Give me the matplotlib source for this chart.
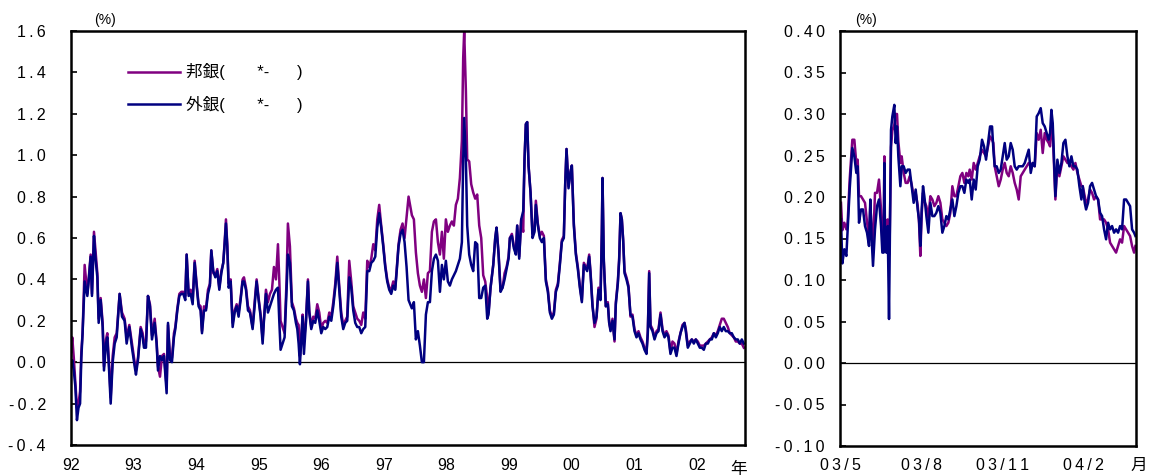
import matplotlib
matplotlib.use("Agg")
import matplotlib.pyplot as plt
import numpy as np

plt.rcParams["font.family"] = ["Liberation Sans", "Noto Sans CJK JP", "DejaVu Sans"]

# 1992-2002: decimal year, 外銀 (foreign banks), 邦銀 (domestic banks), %
long_rows = [
    # 1992
    (1992.000, -0.02, 0.05), (1992.020, 0.01, 0.12), (1992.045, -0.04, 0.02),
    (1992.070, -0.12, -0.10), (1992.095, -0.28, -0.22), (1992.120, -0.22, -0.20),
    (1992.145, -0.20, -0.14), (1992.165, 0.02, 0.05), (1992.185, 0.14, 0.14),
    (1992.218, 0.39, 0.47), (1992.261, 0.32, 0.33), (1992.282, 0.39, 0.40),
    (1992.314, 0.51, 0.52), (1992.335, 0.32, 0.33), (1992.367, 0.61, 0.63),
    (1992.389, 0.51, 0.55), (1992.421, 0.41, 0.43), (1992.442, 0.19, 0.21),
    (1992.474, 0.30, 0.31), (1992.506, 0.17, 0.19), (1992.527, -0.04, -0.02),
    (1992.559, 0.09, 0.11), (1992.580, 0.12, 0.14), (1992.612, -0.06, -0.03),
    (1992.634, -0.20, -0.17), (1992.666, 0.00, 0.03), (1992.698, 0.09, 0.12),
    (1992.730, 0.12, 0.14), (1992.777, 0.33, 0.33), (1992.815, 0.22, 0.24),
    (1992.857, 0.20, 0.21), (1992.889, 0.09, 0.12), (1992.932, 0.17, 0.18),
    (1992.974, 0.07, 0.09),
    # 1993
    (1993.017, -0.02, 0.00), (1993.038, -0.06, -0.04), (1993.070, 0.01, 0.02),
    (1993.113, 0.16, 0.17), (1993.145, 0.12, 0.14), (1993.166, 0.07, 0.09),
    (1993.198, 0.07, 0.10), (1993.230, 0.32, 0.32), (1993.262, 0.27, 0.28),
    (1993.294, 0.11, 0.13), (1993.337, 0.19, 0.21), (1993.368, 0.09, 0.10),
    (1993.390, -0.04, -0.02), (1993.422, 0.03, -0.07), (1993.454, 0.01, 0.03),
    (1993.486, 0.03, 0.04), (1993.507, -0.06, -0.04), (1993.528, -0.15, -0.12),
    (1993.550, 0.19, 0.18), (1993.581, 0.01, 0.03), (1993.613, 0.00, 0.02),
    (1993.645, 0.12, 0.14), (1993.667, 0.16, 0.17), (1993.699, 0.25, 0.26),
    (1993.731, 0.32, 0.33), (1993.763, 0.33, 0.34), (1993.794, 0.33, 0.34),
    (1993.826, 0.30, 0.32), (1993.848, 0.52, 0.52), (1993.880, 0.32, 0.33),
    (1993.912, 0.33, 0.35), (1993.944, 0.28, 0.30), (1993.976, 0.48, 0.49),
    # 1994
    (1994.007, 0.37, 0.38), (1994.039, 0.27, 0.28), (1994.071, 0.25, 0.27),
    (1994.093, 0.14, 0.15), (1994.125, 0.25, 0.27), (1994.157, 0.25, 0.26),
    (1994.189, 0.33, 0.35), (1994.220, 0.37, 0.38), (1994.242, 0.54, 0.54),
    (1994.274, 0.44, 0.43), (1994.306, 0.41, 0.42), (1994.338, 0.44, 0.45),
    (1994.370, 0.35, 0.36), (1994.402, 0.43, 0.44), (1994.433, 0.48, 0.48),
    (1994.455, 0.57, 0.58), (1994.476, 0.67, 0.69), (1994.497, 0.56, 0.57),
    (1994.519, 0.36, 0.38), (1994.551, 0.39, 0.40), (1994.583, 0.17, 0.19),
    (1994.615, 0.24, 0.25), (1994.647, 0.27, 0.28), (1994.678, 0.22, 0.24),
    (1994.710, 0.30, 0.31), (1994.742, 0.39, 0.40), (1994.764, 0.39, 0.41),
    (1994.796, 0.35, 0.36), (1994.828, 0.25, 0.27), (1994.860, 0.24, 0.25),
    (1994.902, 0.16, 0.17), (1994.934, 0.27, 0.29), (1994.966, 0.39, 0.40),
    (1994.998, 0.30, 0.31),
    # 1995
    (1995.030, 0.22, 0.23), (1995.062, 0.09, 0.11), (1995.083, 0.20, 0.21),
    (1995.115, 0.33, 0.35), (1995.147, 0.24, 0.29), (1995.179, 0.27, 0.33),
    (1995.211, 0.30, 0.35), (1995.243, 0.33, 0.46), (1995.275, 0.35, 0.40),
    (1995.307, 0.36, 0.57), (1995.328, 0.20, 0.40), (1995.349, 0.06, 0.20),
    (1995.381, 0.09, 0.17), (1995.413, 0.12, 0.14), (1995.445, 0.35, 0.40),
    (1995.466, 0.52, 0.67), (1995.498, 0.48, 0.56), (1995.530, 0.27, 0.29),
    (1995.562, 0.25, 0.26), (1995.594, 0.19, 0.21), (1995.616, 0.16, 0.19),
    (1995.637, 0.09, 0.18), (1995.658, -0.01, 0.03), (1995.680, 0.11, 0.12),
    (1995.701, 0.22, 0.23), (1995.722, 0.04, 0.10), (1995.754, 0.19, 0.20),
    (1995.786, 0.39, 0.40), (1995.807, 0.24, 0.25), (1995.839, 0.16, 0.17),
    (1995.871, 0.20, 0.22), (1995.903, 0.19, 0.21), (1995.935, 0.25, 0.28),
    (1995.967, 0.20, 0.24), (1995.999, 0.14, 0.16),
    # 1996
    (1996.031, 0.17, 0.19), (1996.063, 0.16, 0.20), (1996.095, 0.17, 0.19),
    (1996.127, 0.22, 0.24), (1996.159, 0.20, 0.22), (1996.191, 0.27, 0.29),
    (1996.223, 0.36, 0.38), (1996.255, 0.48, 0.51), (1996.286, 0.35, 0.37),
    (1996.318, 0.22, 0.24), (1996.350, 0.16, 0.18), (1996.382, 0.19, 0.20),
    (1996.414, 0.20, 0.22), (1996.446, 0.41, 0.49), (1996.478, 0.36, 0.39),
    (1996.510, 0.25, 0.27), (1996.542, 0.19, 0.24), (1996.574, 0.17, 0.21),
    (1996.606, 0.17, 0.20), (1996.638, 0.14, 0.18), (1996.670, 0.16, 0.24),
    (1996.702, 0.17, 0.21), (1996.734, 0.44, 0.49), (1996.766, 0.44, 0.46),
    (1996.798, 0.48, 0.50), (1996.830, 0.49, 0.57), (1996.862, 0.51, 0.54),
    (1996.894, 0.65, 0.69), (1996.925, 0.72, 0.76), (1996.957, 0.65, 0.66),
    (1996.989, 0.56, 0.57),
    # 1997
    (1997.021, 0.46, 0.47), (1997.053, 0.39, 0.40), (1997.085, 0.35, 0.36),
    (1997.117, 0.33, 0.35), (1997.149, 0.37, 0.39), (1997.181, 0.35, 0.36),
    (1997.202, 0.43, 0.44), (1997.234, 0.56, 0.57), (1997.266, 0.62, 0.64),
    (1997.298, 0.64, 0.67), (1997.330, 0.58, 0.60), (1997.362, 0.46, 0.70),
    (1997.394, 0.30, 0.80), (1997.447, 0.26, 0.71), (1997.479, 0.29, 0.69),
    (1997.511, 0.11, 0.53), (1997.543, 0.15, 0.43), (1997.575, 0.08, 0.37),
    (1997.607, 0.00, 0.34), (1997.639, 0.00, 0.40), (1997.671, 0.23, 0.31),
    (1997.703, 0.29, 0.43), (1997.735, 0.29, 0.44), (1997.767, 0.44, 0.63),
    (1997.799, 0.50, 0.68), (1997.831, 0.52, 0.69), (1997.863, 0.49, 0.58),
    (1997.895, 0.34, 0.52), (1997.927, 0.47, 0.63), (1997.958, 0.40, 0.50),
    (1997.990, 0.49, 0.69),
    # 1998
    (1998.022, 0.39, 0.63), (1998.054, 0.37, 0.66), (1998.086, 0.40, 0.68),
    (1998.118, 0.42, 0.66), (1998.150, 0.44, 0.76), (1998.182, 0.47, 0.79),
    (1998.214, 0.50, 0.89), (1998.246, 0.58, 1.07), (1998.267, 0.98, 1.47),
    (1998.283, 1.18, 1.60), (1998.310, 0.98, 1.31), (1998.331, 0.66, 0.98),
    (1998.363, 0.52, 0.97), (1998.395, 0.47, 0.86), (1998.427, 0.44, 0.82),
    (1998.459, 0.58, 0.79), (1998.491, 0.57, 0.81), (1998.523, 0.31, 0.66),
    (1998.555, 0.31, 0.60), (1998.587, 0.36, 0.42), (1998.619, 0.37, 0.39),
    (1998.651, 0.21, 0.31), (1998.672, 0.23, 0.24), (1998.704, 0.36, 0.36),
    (1998.747, 0.47, 0.47), (1998.779, 0.60, 0.60), (1998.800, 0.65, 0.65),
    (1998.832, 0.52, 0.53), (1998.864, 0.34, 0.35), (1998.896, 0.36, 0.36),
    (1998.928, 0.40, 0.43), (1998.960, 0.45, 0.46), (1998.992, 0.50, 0.51),
    # 1999
    (1999.013, 0.60, 0.60), (1999.045, 0.61, 0.62), (1999.077, 0.55, 0.56),
    (1999.109, 0.52, 0.53), (1999.130, 0.66, 0.66), (1999.162, 0.50, 0.51),
    (1999.194, 0.69, 0.69), (1999.226, 0.73, 0.63), (1999.247, 0.98, 0.98),
    (1999.268, 1.15, 1.15), (1999.290, 1.16, 1.16), (1999.311, 0.95, 0.95),
    (1999.343, 0.82, 0.82), (1999.375, 0.60, 0.62), (1999.407, 0.63, 0.64),
    (1999.428, 0.76, 0.78), (1999.460, 0.66, 0.67), (1999.492, 0.60, 0.61),
    (1999.524, 0.58, 0.63), (1999.556, 0.60, 0.61), (1999.588, 0.39, 0.40),
    (1999.620, 0.34, 0.35), (1999.652, 0.24, 0.25), (1999.684, 0.21, 0.22),
    (1999.716, 0.23, 0.24), (1999.748, 0.34, 0.35), (1999.780, 0.37, 0.38),
    (1999.812, 0.47, 0.48), (1999.843, 0.58, 0.59), (1999.875, 0.60, 0.61),
    (1999.897, 0.86, 0.86), (1999.918, 1.03, 1.03), (1999.950, 0.84, 0.85),
    (1999.982, 0.92, 0.92),
    # 2000
    (2000.003, 0.95, 0.95), (2000.035, 0.66, 0.67), (2000.067, 0.52, 0.53),
    (2000.099, 0.45, 0.46), (2000.131, 0.36, 0.37), (2000.163, 0.29, 0.30),
    (2000.195, 0.47, 0.48), (2000.248, 0.44, 0.45), (2000.280, 0.51, 0.52),
    (2000.301, 0.43, 0.44), (2000.333, 0.27, 0.28), (2000.365, 0.19, 0.17),
    (2000.397, 0.22, 0.21), (2000.429, 0.35, 0.36), (2000.461, 0.30, 0.31),
    (2000.482, 0.62, 0.62), (2000.493, 0.89, 0.89), (2000.514, 0.49, 0.49),
    (2000.546, 0.27, 0.27), (2000.578, 0.28, 0.29), (2000.600, 0.19, 0.19),
    (2000.621, 0.15, 0.16), (2000.653, 0.20, 0.21), (2000.685, 0.11, 0.10),
    (2000.706, 0.28, 0.29), (2000.738, 0.38, 0.39), (2000.759, 0.49, 0.50),
    (2000.781, 0.72, 0.72), (2000.802, 0.69, 0.69), (2000.823, 0.59, 0.59),
    (2000.845, 0.43, 0.44), (2000.876, 0.40, 0.41), (2000.908, 0.36, 0.37),
    (2000.940, 0.23, 0.22), (2000.972, 0.22, 0.23),
    # 2001
    (2001.004, 0.15, 0.16), (2001.036, 0.12, 0.13), (2001.068, 0.14, 0.15),
    (2001.100, 0.11, 0.12), (2001.132, 0.09, 0.10), (2001.164, 0.06, 0.07),
    (2001.196, 0.04, 0.05), (2001.217, 0.14, 0.15), (2001.239, 0.43, 0.44),
    (2001.260, 0.17, 0.18), (2001.292, 0.15, 0.16), (2001.324, 0.11, 0.12),
    (2001.356, 0.14, 0.15), (2001.388, 0.15, 0.16), (2001.420, 0.23, 0.24),
    (2001.452, 0.15, 0.16), (2001.484, 0.12, 0.13), (2001.515, 0.14, 0.15),
    (2001.547, 0.12, 0.13), (2001.579, 0.04, 0.05), (2001.611, 0.07, 0.10),
    (2001.643, 0.07, 0.09), (2001.675, 0.03, 0.04), (2001.707, 0.09, 0.10),
    (2001.739, 0.14, 0.14), (2001.771, 0.17, 0.18), (2001.803, 0.19, 0.19),
    (2001.824, 0.15, 0.16), (2001.856, 0.07, 0.08), (2001.888, 0.09, 0.10),
    (2001.920, 0.11, 0.11), (2001.952, 0.09, 0.10), (2001.984, 0.11, 0.11),
    # 2002
    (2002.016, 0.09, 0.10), (2002.048, 0.07, 0.08), (2002.080, 0.07, 0.08),
    (2002.112, 0.06, 0.08), (2002.144, 0.09, 0.09), (2002.176, 0.09, 0.10),
    (2002.208, 0.11, 0.11), (2002.240, 0.11, 0.12), (2002.272, 0.14, 0.14),
    (2002.304, 0.12, 0.13), (2002.335, 0.14, 0.15), (2002.367, 0.17, 0.18),
    (2002.399, 0.15, 0.21), (2002.431, 0.17, 0.21), (2002.463, 0.15, 0.19),
    (2002.495, 0.15, 0.17), (2002.527, 0.14, 0.14), (2002.559, 0.14, 0.13),
    (2002.591, 0.12, 0.12), (2002.623, 0.11, 0.10), (2002.655, 0.11, 0.10),
    (2002.687, 0.09, 0.09), (2002.719, 0.11, 0.09), (2002.751, 0.09, 0.07),
]
long_t = np.array([r[0] for r in long_rows])
long_foreign = np.array([r[1] for r in long_rows])
long_domestic = np.array([r[2] for r in long_rows])

# May 2003 - Mar 2004: months since 2003/5, 外銀, 邦銀, %
recent_rows = [
    (0.037, 0.173, 0.193), (0.086, 0.120, 0.160), (0.160, 0.137, 0.169),
    (0.235, 0.129, 0.161), (0.284, 0.161, 0.170), (0.358, 0.209, 0.221),
    (0.457, 0.259, 0.269), (0.531, 0.249, 0.269), (0.605, 0.229, 0.240),
    (0.654, 0.237, 0.245), (0.704, 0.169, 0.201), (0.778, 0.185, 0.201),
    (0.852, 0.185, 0.197), (0.926, 0.165, 0.193), (1.000, 0.157, 0.170),
    (1.074, 0.141, 0.150), (1.123, 0.197, 0.190), (1.173, 0.149, 0.160),
    (1.222, 0.117, 0.140), (1.296, 0.161, 0.205), (1.370, 0.189, 0.205),
    (1.444, 0.197, 0.221), (1.519, 0.165, 0.185), (1.568, 0.133, 0.150),
    (1.617, 0.133, 0.140), (1.642, 0.241, 0.249), (1.667, 0.137, 0.150),
    (1.716, 0.133, 0.161), (1.765, 0.165, 0.173), (1.815, 0.053, 0.130),
    (1.840, 0.133, 0.150), (1.889, 0.281, 0.260), (1.938, 0.297, 0.280),
    (2.012, 0.311, 0.287), (2.062, 0.265, 0.300), (2.111, 0.285, 0.300),
    (2.160, 0.249, 0.267), (2.235, 0.213, 0.241), (2.284, 0.237, 0.249),
    (2.358, 0.237, 0.229), (2.432, 0.229, 0.217), (2.506, 0.233, 0.217),
    (2.580, 0.233, 0.225), (2.654, 0.213, 0.215), (2.728, 0.193, 0.201),
    (2.802, 0.209, 0.205), (2.877, 0.185, 0.190), (2.926, 0.173, 0.169),
    (2.975, 0.141, 0.129), (3.025, 0.185, 0.180), (3.074, 0.213, 0.205),
    (3.123, 0.201, 0.195), (3.198, 0.177, 0.189), (3.272, 0.157, 0.175),
    (3.346, 0.193, 0.201), (3.420, 0.177, 0.197), (3.494, 0.177, 0.189),
    (3.568, 0.181, 0.193), (3.642, 0.189, 0.201), (3.716, 0.181, 0.193),
    (3.790, 0.157, 0.173), (3.864, 0.165, 0.169), (3.938, 0.177, 0.165),
    (4.012, 0.173, 0.169), (4.086, 0.185, 0.181), (4.160, 0.197, 0.213),
    (4.235, 0.177, 0.201), (4.309, 0.189, 0.201), (4.383, 0.205, 0.213),
    (4.457, 0.213, 0.225), (4.531, 0.213, 0.229), (4.605, 0.205, 0.217),
    (4.679, 0.221, 0.229), (4.753, 0.217, 0.225), (4.802, 0.221, 0.233),
    (4.877, 0.197, 0.221), (4.951, 0.221, 0.241), (5.025, 0.209, 0.233),
    (5.099, 0.237, 0.241), (5.173, 0.245, 0.249), (5.259, 0.269, 0.257),
    (5.333, 0.261, 0.253), (5.407, 0.245, 0.249), (5.481, 0.265, 0.261),
    (5.556, 0.285, 0.273), (5.630, 0.285, 0.269), (5.679, 0.257, 0.265),
    (5.728, 0.237, 0.237), (5.802, 0.237, 0.225), (5.877, 0.229, 0.213),
    (5.951, 0.233, 0.221), (6.025, 0.249, 0.233), (6.099, 0.265, 0.241),
    (6.173, 0.245, 0.229), (6.247, 0.249, 0.225), (6.321, 0.265, 0.237),
    (6.395, 0.257, 0.229), (6.469, 0.237, 0.217), (6.543, 0.233, 0.209),
    (6.617, 0.237, 0.197), (6.691, 0.237, 0.225), (6.765, 0.237, 0.229),
    (6.840, 0.241, 0.233), (6.914, 0.249, 0.237), (6.988, 0.257, 0.241),
    (7.062, 0.229, 0.237), (7.136, 0.241, 0.241), (7.210, 0.237, 0.237),
    (7.284, 0.297, 0.277), (7.358, 0.301, 0.269), (7.432, 0.307, 0.281),
    (7.506, 0.289, 0.253), (7.580, 0.285, 0.277), (7.654, 0.277, 0.269),
    (7.728, 0.269, 0.265), (7.778, 0.277, 0.261), (7.827, 0.305, 0.289),
    (7.877, 0.289, 0.277), (7.926, 0.245, 0.237), (7.975, 0.201, 0.197),
    (8.049, 0.245, 0.241), (8.123, 0.229, 0.225), (8.198, 0.241, 0.237),
    (8.272, 0.265, 0.249), (8.346, 0.269, 0.245), (8.420, 0.249, 0.241),
    (8.494, 0.237, 0.241), (8.568, 0.249, 0.237), (8.642, 0.237, 0.233),
    (8.716, 0.237, 0.241), (8.790, 0.233, 0.229), (8.864, 0.213, 0.221),
    (8.938, 0.197, 0.213), (8.988, 0.213, 0.213), (9.062, 0.193, 0.201),
    (9.111, 0.185, 0.193), (9.185, 0.193, 0.197), (9.259, 0.213, 0.209),
    (9.333, 0.217, 0.205), (9.407, 0.209, 0.197), (9.481, 0.201, 0.201),
    (9.556, 0.197, 0.197), (9.630, 0.181, 0.173), (9.704, 0.177, 0.173),
    (9.778, 0.161, 0.173), (9.852, 0.149, 0.169), (9.926, 0.169, 0.161),
    (10.000, 0.161, 0.145), (10.074, 0.165, 0.141), (10.148, 0.157, 0.137),
    (10.222, 0.161, 0.133), (10.296, 0.157, 0.141), (10.370, 0.165, 0.149),
    (10.444, 0.161, 0.145), (10.519, 0.197, 0.165), (10.593, 0.197, 0.161),
    (10.667, 0.193, 0.157), (10.741, 0.189, 0.153), (10.815, 0.161, 0.141),
    (10.889, 0.157, 0.133), (10.938, 0.153, 0.141),
]
recent_m = np.array([r[0] for r in recent_rows])
recent_foreign = np.array([r[1] for r in recent_rows])
recent_domestic = np.array([r[2] for r in recent_rows])

year_ticks = list(range(1992, 2003))
year_labels = ["92", "93", "94", "95", "96", "97", "98", "99", "00", "01", "02"]
long_yticks = [-0.4, -0.2, 0.0, 0.2, 0.4, 0.6, 0.8, 1.0, 1.2, 1.4, 1.6]

month_ticks = [0, 3, 6, 9]
month_labels = ["03/5", "03/8", "03/11", "04/2"]
recent_yticks = [-0.10, -0.05, 0.00, 0.05, 0.10, 0.15, 0.20, 0.25, 0.30, 0.35, 0.40]

DOM = "#800080"
FOR = "#000080"
W, H = 1149, 475


def spaced(s):
    # wide letter spacing for the numeric labels
    return "\u2009".join(s)


fig = plt.figure(figsize=(W / 100, H / 100), dpi=100)
ax1 = fig.add_axes([71 / W, 30 / H, 674 / W, 414 / H])
ax2 = fig.add_axes([840 / W, 29 / H, 296 / W, 415 / H])


def style(ax, ypad, xpad):
    for s in ax.spines.values():
        s.set_linewidth(1.8)
        s.set_color("black")
    ax.axhline(0, color="black", lw=0.9, zorder=1)
    ax.tick_params(axis="y", direction="in", length=4, width=1.2,
                   pad=ypad, labelsize=11.5)
    ax.tick_params(axis="x", length=0, pad=xpad, labelsize=11.5)


ax1.plot(long_t, long_domestic, color=DOM, lw=1.8, label="邦銀(       *-      )")
ax1.plot(long_t, long_foreign, color=FOR, lw=1.8, label="外銀(       *-      )")
ax1.set_xlim(1992.0, 2002.77)
ax1.set_ylim(-0.4, 1.6)
ax1.set_xticks(year_ticks)
ax1.set_xticklabels(year_labels)
ax1.set_yticks(long_yticks)
ax1.set_yticklabels([spaced(f"{v:.1f}") for v in long_yticks])
style(ax1, 18, 9)
ax1.text(0.05, 1.027, "(%)", transform=ax1.transAxes, ha="center",
         va="center", fontsize=10)
ax1.text(0.99, -0.058, "年", transform=ax1.transAxes, ha="center",
         va="center", fontsize=12)
ax1.legend(loc="upper left", bbox_to_anchor=(0.075, 0.938), frameon=False,
           prop={"size": 12}, handlelength=3.1, handletextpad=0.35,
           labelspacing=0.95, borderaxespad=0)

ax2.plot(recent_m, recent_domestic, color=DOM, lw=1.8)
ax2.plot(recent_m, recent_foreign, color=FOR, lw=1.8)
ax2.set_xlim(0, 10.96)
ax2.set_ylim(-0.10, 0.40)
ax2.set_xticks(month_ticks)
ax2.set_xticklabels([spaced(s) for s in month_labels])
ax2.set_yticks(recent_yticks)
ax2.set_yticklabels([spaced(f"{v:.2f}") for v in recent_yticks])
style(ax2, 11, 9)
ax2.text(0.088, 1.027, "(%)", transform=ax2.transAxes, ha="center",
         va="center", fontsize=10)
ax2.text(1.01, -0.047, "月", transform=ax2.transAxes, ha="center",
         va="center", fontsize=12)

fig.savefig("out.png", dpi=100)
